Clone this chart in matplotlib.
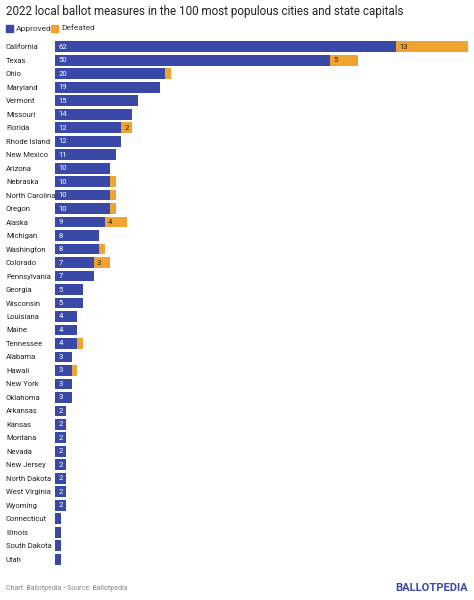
import matplotlib
matplotlib.use("Agg")
import matplotlib.pyplot as plt

states = ["California","Texas","Ohio","Maryland","Vermont","Missouri","Florida","Rhode Island","New Mexico","Arizona","Nebraska","North Carolina","Oregon","Alaska","Michigan","Washington","Colorado","Pennsylvania","Georgia","Wisconsin","Louisiana","Maine","Tennessee","Alabama","Hawaii","New York","Oklahoma","Arkansas","Kansas","Montana","Nevada","New Jersey","North Dakota","West Virginia","Wyoming","Connecticut","Illinois","South Dakota","Utah"]
approved = [62,50,20,19,15,14,12,12,11,10,10,10,10,9,8,8,7,7,5,5,4,4,4,3,3,3,3,2,2,2,2,2,2,2,2,1,1,1,1]
defeated = [13,5,1,0,0,0,2,0,0,0,1,1,1,4,0,1,3,0,0,0,0,0,1,0,1,0,0,0,0,0,0,0,0,0,0,0,0,0,0]

BLUE = "#3a48a8"; ORANGE = "#f0a32f"
plt.rcParams['font.family'] = ['Roboto', 'DejaVu Sans']
fig = plt.figure(figsize=(4.74, 6.0), dpi=100)
ax = fig.add_axes([55/474, 1-566/600, (468-55)/474, (566-40)/600])
y = list(range(len(states)))
ax.barh(y, approved, height=0.8, color=BLUE)
ax.barh(y, defeated, left=approved, height=0.8, color=ORANGE)
for i, (a, d) in enumerate(zip(approved, defeated)):
    if a >= 2:
        ax.text(0.6, i, str(a), color="white", va="center", fontsize=5.6)
    if d >= 2:
        ax.text(a + 0.6, i, str(d), color="#222222", va="center", fontsize=5.6)
ax.set_ylim(len(states) - 0.5, -0.5)
ax.set_xlim(0, 75)
ax.set_yticks(y)
ax.set_yticklabels(states, fontsize=5.5, ha="left", color="#222222")
ax.tick_params(axis="y", length=0, pad=35.3)
ax.set_xticks([])
for s in ax.spines.values():
    s.set_visible(False)

fig.text(6/474, 1-12/600, "2022 local ballot measures in the 100 most populous cities and state capitals",
         fontsize=8.4, va="center", color="#222222")
fig.patches.append(plt.Rectangle((6/474, 1-32/600), 7/474, 7/600, color=BLUE, transform=fig.transFigure))
fig.text(16/474, 1-28.5/600, "Approved", fontsize=6, va="center", color="#333333")
fig.patches.append(plt.Rectangle((51/474, 1-32/600), 7/474, 7/600, color=ORANGE, transform=fig.transFigure))
fig.text(61/474, 1-28.5/600, "Defeated", fontsize=6, va="center", color="#333333")
fig.text(6/474, 1-588/600, "Chart: Ballotpedia • Source: Ballotpedia", fontsize=5, va="center", color="#888888")
fig.text(468/474, 1-588/600, "BALLOTPEDIA", fontsize=8, va="center", ha="right", color="#3a48a8", fontweight="bold")
fig.savefig("out.png", dpi=100)
